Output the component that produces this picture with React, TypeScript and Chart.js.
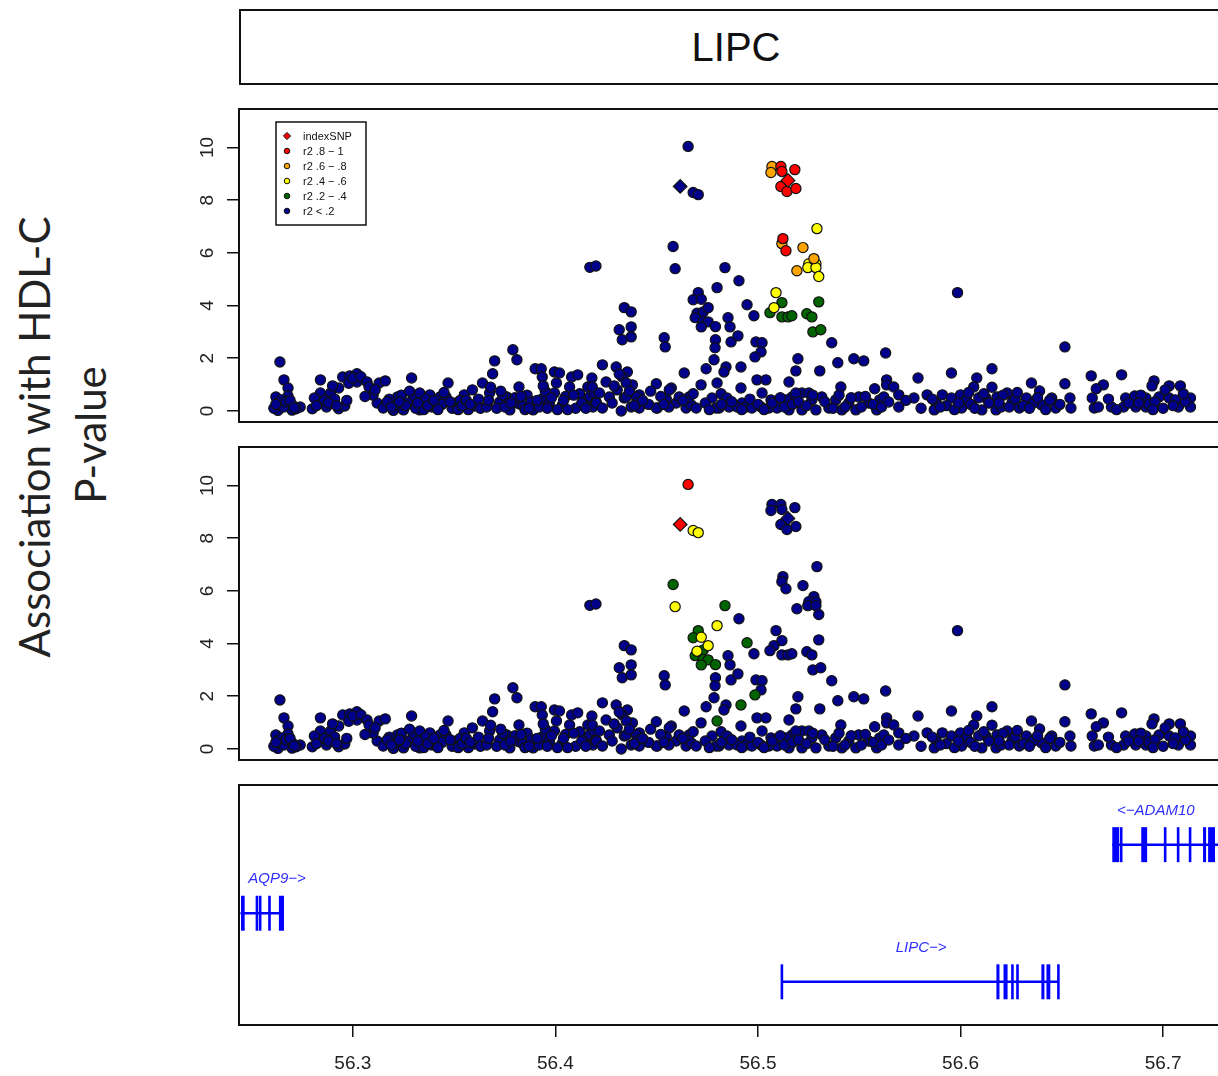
import React, { useEffect, useRef } from 'react';
import { Chart, registerables } from 'chart.js';

Chart.register(...registerables);

// ---------- axes ----------
const X_MIN = 56.2438;
const X_MAX = 56.7335;
const Y_MIN = -0.42;
const Y_MAX = 11.46;
const X_TICKS = [56.3, 56.4, 56.5, 56.6, 56.7];
const Y_TICKS = [0, 2, 4, 6, 8, 10];

const TITLE = 'LIPC';
const Y_LABEL_1 = 'Association with HDL-C';
const Y_LABEL_2 = 'P-value';

// r2 classes: 0 <.2, 1 .2-.4, 2 .4-.6, 3 .6-.8, 4 .8-1
const R2_COLORS = ['#00008B', '#006400', '#FFFF00', '#FFA500', '#FF0000'];
const LEGEND_LABELS = ['indexSNP', 'r2 .8 \u2212 1', 'r2 .6 \u2212 .8', 'r2 .4 \u2212 .6', 'r2 .2 \u2212 .4', 'r2 < .2'];
const LEGEND_CLASSES = [4, 4, 3, 2, 1, 0];

// SNPs in LD with the top panel's index SNP
const P1_POS = [
  56.5069, 56.5064, 56.5113, 56.5118, 56.5182, 56.5113, 56.5143, 56.5187,
  56.5123, 56.5118, 56.5138, 56.5222, 56.5291, 56.5276, 56.5251, 56.5286, 56.5246, 56.5286, 56.5300, 56.5192,
  56.5089, 56.5079, 56.5118, 56.5059, 56.5118, 56.5148, 56.5167, 56.5300, 56.5241, 56.5266, 56.5271, 56.5310,
];
const P1_LOGP = [
  9.28, 9.05, 9.28, 9.09, 9.16, 8.52, 8.33, 8.44,
  6.54, 6.35, 6.08, 6.20, 6.92, 5.78, 5.59, 5.59, 5.44, 5.44, 5.10, 5.32,
  4.49, 3.92, 4.11, 3.73, 3.57, 3.57, 3.61, 4.14, 3.69, 3.57, 3.00, 3.08,
];
const P1_R2 = [
  3, 3, 4, 4, 4, 4, 4, 4,
  4, 3, 4, 3, 2, 3, 2, 2, 2, 2, 2, 3,
  2, 2, 1, 1, 1, 1, 1, 1, 1, 1, 1, 1,
];

// SNPs in LD with the bottom panel's index SNP
const P2_POS = [
  56.4655, 56.4680, 56.4705, 56.4581, 56.4591, 56.4837, 56.4798, 56.4946, 56.4705, 56.4680, 56.4720,
  56.4699, 56.4730, 56.4754, 56.4690, 56.4730, 56.4754, 56.4720, 56.4790, 56.4798, 56.4916, 56.4985,
];
const P2_LOGP = [
  10.04, 8.29, 8.21, 6.24, 5.40, 5.44, 4.68, 4.03, 4.49, 4.22, 4.24,
  3.71, 3.76, 3.92, 3.54, 3.40, 3.38, 3.19, 3.20, 1.06, 1.67, 2.05,
];
const P2_R2 = [
  4, 2, 2, 1, 2, 1, 2, 1, 1, 1, 2,
  2, 1, 2, 1, 1, 1, 1, 1, 1, 1, 1,
];

// index SNPs (diamonds)
const INDEX_POS = [56.5148, 56.4616];
const INDEX_LOGP = [8.75, 8.52];
const INDEX_R2_P1 = [4, 0];
const INDEX_R2_P2 = [0, 4];

// all remaining SNPs (r2 < .2 in both panels): [position Mb, -log10 p]
const OTHER_SNPS: [number, number][] = [
  [56.264, 1.86], [56.266, 1.18], [56.268, 0.87], [56.262, 0.53], [56.268, 0.57], [56.263, 0.30], [56.270, 0.23],
  [56.263, 0.02], [56.270, 0.03], [56.274, 0.15], [56.266, 0.15], [56.265, 0.42], [56.261, 0.10], [56.272, 0.08],
  [56.267, 0.35], [56.262, 0.25], [56.269, 0.40], [56.271, 0.12],
  [56.280, 0.08], [56.284, 1.18], [56.284, 0.68], [56.287, 0.15], [56.293, 0.08], [56.296, 0.19], [56.293, 0.87],
  [56.295, 1.29], [56.2985, 1.33], [56.302, 1.41], [56.302, 1.10], [56.289, 0.68], [56.281, 0.49], [56.290, 0.95],
  [56.298, 1.05], [56.286, 0.40], [56.291, 0.45], [56.300, 1.25], [56.304, 1.30],
  [56.307, 1.10], [56.308, 0.91], [56.312, 0.30], [56.313, 1.06], [56.316, 1.14], [56.315, 0.11], [56.320, 0.02],
  [56.321, 0.23], [56.322, 0.53], [56.325, 0.04], [56.329, 1.25], [56.330, 0.53], [56.327, 0.30], [56.333, 0.68],
  [56.3345, 0.34], [56.333, 0.04], [56.338, 0.61], [56.339, 0.15], [56.343, 0.53], [56.341, 0.15], [56.347, 1.06],
  [56.346, 0.53], [56.351, 0.30], [56.355, 0.61], [56.359, 0.80], [56.360, 0.19], [56.318, 0.45], [56.324, 0.60],
  [56.326, 0.20], [56.331, 0.10], [56.336, 0.45], [56.344, 0.25], [56.349, 0.10], [56.353, 0.40], [56.357, 0.05],
  [56.310, 0.60], [56.317, 0.35], [56.335, 0.05],
  [56.311, 0.80], [56.319, 0.15], [56.323, 0.35], [56.328, 0.75], [56.332, 0.30], [56.337, 0.20], [56.340, 0.40],
  [56.342, 0.05], [56.345, 0.70], [56.348, 0.35], [56.352, 0.05], [56.354, 0.20], [56.356, 0.40], [56.358, 0.25],
  [56.362, 0.45], [56.363, 0.10], [56.282, 0.20], [56.288, 0.30], [56.292, 0.20], [56.297, 0.40], [56.306, 0.55],
  [56.364, 1.06], [56.370, 1.90], [56.369, 1.41], [56.3675, 0.68], [56.366, 0.15], [56.3725, 0.34], [56.376, 0.53],
  [56.379, 2.32], [56.381, 1.94], [56.382, 0.91], [56.3775, 0.04], [56.382, 0.27], [56.389, 0.04], [56.390, 1.60],
  [56.393, 1.60], [56.3935, 1.29], [56.3935, 0.46], [56.3995, 1.48], [56.402, 1.44], [56.4005, 1.06], [56.3995, 0.68],
  [56.4035, 0.23], [56.408, 1.29], [56.411, 1.37], [56.407, 0.91], [56.416, 0.91], [56.418, 1.25], [56.4145, 0.42],
  [56.4185, 0.15], [56.367, 0.40], [56.371, 0.10], [56.374, 0.60], [56.380, 0.50], [56.384, 0.20], [56.386, 0.60],
  [56.388, 0.35], [56.392, 0.15], [56.395, 0.75], [56.397, 0.30], [56.401, 0.05], [56.405, 0.55], [56.410, 0.10],
  [56.412, 0.65], [56.413, 0.30], [56.417, 0.55], [56.420, 0.35], [56.385, 0.05], [56.396, 0.10],
  [56.368, 0.90], [56.373, 0.75], [56.375, 0.15], [56.378, 0.30], [56.383, 0.55], [56.387, 0.10], [56.391, 0.40],
  [56.394, 0.95], [56.398, 0.50], [56.404, 0.40], [56.406, 0.05], [56.409, 0.60], [56.415, 0.10], [56.419, 0.70],
  [56.417, 5.45], [56.420, 5.50],
  [56.4232, 1.75], [56.4300, 1.67], [56.4355, 1.48], [56.4330, 1.29], [56.4380, 0.99], [56.4414, 0.61], [56.4340, 0.49],
  [56.4374, 0.15], [56.4325, 0.00], [56.4498, 1.03], [56.4503, 0.11], [56.4572, 0.87], [56.4547, 0.46], [56.4340, 3.92],
  [56.4374, 3.76], [56.4315, 3.08], [56.4330, 2.70], [56.4374, 3.19], [56.4374, 2.81], [56.4537, 2.78], [56.4542, 2.43],
  [56.4182, 0.91], [56.4217, 0.68], [56.4202, 0.30], [56.4232, 0.11], [56.4266, 0.53], [56.4305, 0.80], [56.4350, 1.06],
  [56.4350, 0.53], [56.4400, 0.53], [56.4414, 0.11], [56.4498, 0.11], [56.4562, 0.80], [56.4596, 0.30], [56.4315, 1.40],
  [56.4400, 0.30], [56.4460, 0.25], [56.4470, 0.75], [56.4520, 0.55], [56.4560, 0.15],
  [56.4250, 1.10], [56.4280, 0.30], [56.4290, 0.95], [56.4365, 0.75], [56.4390, 0.20], [56.4430, 0.40], [56.4535, 0.25],
  [56.4906, 4.94], [56.4980, 3.61], [56.4852, 3.54], [56.4862, 3.19], [56.4790, 2.70], [56.4788, 2.40], [56.4867, 2.62],
  [56.4901, 2.85], [56.4636, 1.44], [56.4611, 0.53], [56.4645, 0.11], [56.4670, 0.23], [56.4719, 0.99], [56.4744, 1.60],
  [56.4783, 1.94], [56.4818, 0.65], [56.4842, 1.67], [56.4832, 1.48], [56.4808, 0.11], [56.4857, 0.15], [56.4916, 0.87],
  [56.4921, 0.30], [56.4990, 2.62], [56.5020, 2.59], [56.5015, 2.24], [56.4995, 1.18], [56.5039, 1.18], [56.5020, 0.68],
  [56.5015, 0.15], [56.5064, 0.42], [56.5153, 1.10], [56.5187, 1.52], [56.5197, 1.98], [56.5168, 0.53], [56.5217, 0.68],
  [56.5266, 0.42], [56.5305, 1.52], [56.5364, 2.59], [56.5394, 1.83], [56.5409, 0.91], [56.5473, 1.98], [56.5522, 1.90],
  [56.5630, 2.20], [56.5576, 0.84], [56.5601, 0.42],
  [56.4660, 0.53], [56.4695, 0.11], [56.4773, 0.49], [56.4793, 0.11], [56.4847, 0.49], [56.4897, 0.15], [56.4941, 0.15],
  [56.4970, 0.11], [56.5054, 0.11], [56.5094, 0.11], [56.5138, 0.42], [56.5153, 0.04], [56.5187, 0.68], [56.5217, 0.04],
  [56.5251, 0.68], [56.5286, 0.04], [56.5315, 0.53], [56.5350, 0.11], [56.5384, 0.42], [56.5414, 0.04], [56.5448, 0.30],
  [56.5483, 0.04], [56.5497, 0.53], [56.5547, 0.30], [56.5586, 0.04], [56.5621, 0.53], [56.5635, 1.18],
  [56.4630, 0.40], [56.4680, 0.65], [56.4740, 0.30], [56.4760, 0.05], [56.4820, 0.25], [56.4870, 0.35], [56.4920, 0.05],
  [56.4960, 0.45], [56.5000, 0.25], [56.5030, 0.05], [56.5070, 0.30], [56.5110, 0.50], [56.5130, 0.15], [56.5170, 0.25],
  [56.5200, 0.35], [56.5240, 0.20], [56.5270, 0.60], [56.5330, 0.35], [56.5370, 0.10], [56.5400, 0.60], [56.5430, 0.15],
  [56.5460, 0.50], [56.5510, 0.15], [56.5530, 0.55], [56.5570, 0.25], [56.5610, 0.15],
  [56.5985, 4.49], [56.6515, 2.43], [56.5790, 1.25], [56.5955, 1.44], [56.6155, 1.60], [56.6080, 1.25], [56.6065, 0.91],
  [56.6350, 1.06], [56.6390, 0.76], [56.6515, 1.03], [56.6540, 0.49], [56.6545, 0.11], [56.6645, 1.33], [56.6705, 0.99],
  [56.6670, 0.84], [56.6650, 0.49], [56.6660, 0.11], [56.6795, 1.37], [56.6815, 0.49], [56.6860, 0.57], [56.6915, 0.49],
  [56.6955, 1.14], [56.6945, 0.95], [56.7030, 0.95], [56.7085, 0.95], [56.7030, 0.49], [56.7135, 0.49], [56.7135, 0.15],
  [56.7075, 0.15], [56.5770, 0.49], [56.5635, 0.99], [56.5670, 0.91], [56.5695, 0.61], [56.5695, 0.15], [56.5645, 0.34],
  [56.5835, 0.61], [56.5880, 0.30], [56.5910, 0.61], [56.5955, 0.49], [56.6000, 0.61], [56.6030, 0.42], [56.6005, 0.11],
  [56.6125, 0.49], [56.6180, 0.53], [56.6230, 0.68], [56.6255, 0.34], [56.6290, 0.11], [56.6325, 0.49], [56.6105, 0.04],
  [56.6175, 0.04], [56.6400, 0.23], [56.6450, 0.49], [56.6470, 0.11], [56.6805, 0.15], [56.6865, 0.15], [56.6915, 0.15],
  [56.6980, 0.53], [56.7060, 0.42], [56.6745, 0.15], [56.6680, 0.15], [56.5870, 0.04],
  [56.5730, 0.40], [56.5805, 0.10], [56.5860, 0.45], [56.5930, 0.20], [56.5970, 0.05], [56.6050, 0.25], [56.6090, 0.50],
  [56.6140, 0.30], [56.6200, 0.15], [56.6210, 0.60], [56.6270, 0.45], [56.6310, 0.20], [56.6360, 0.30], [56.6420, 0.05],
  [56.6440, 0.40], [56.6490, 0.25], [56.6730, 0.45], [56.6770, 0.05], [56.6830, 0.30], [56.6890, 0.60], [56.6930, 0.25],
  [56.7000, 0.10], [56.7010, 0.80], [56.7110, 0.35], [56.6040, 0.70], [56.6155, 0.90],
  [56.5900, 0.15], [56.5990, 0.30], [56.6070, 0.10], [56.6115, 0.65], [56.6190, 0.30], [56.6240, 0.15], [56.6280, 0.70],
  [56.6340, 0.10], [56.6380, 0.50], [56.6880, 0.30], [56.6960, 0.35], [56.7050, 0.20], [56.7100, 0.65], [56.6950, 0.05],
];

// ---------- gene track ----------
const GENE_NAMES = ['AQP9\u2212>', 'LIPC\u2212>', '<\u2212ADAM10'];
const GENE_ROW = [2, 1, 3];
const GENE_START = [56.2445, 56.5118, 56.6749];
const GENE_END = [56.2655, 56.6483, 56.7450];
const GENE_LABEL_POS = [56.2626, 56.5805, 56.6964];
const GENE_EXONS: [number, number][][] = [
  [[56.2448, 56.2466], [56.2523, 56.2530], [56.2539, 56.2546], [56.2582, 56.2595], [56.2635, 56.2660]],
  [[56.5113, 56.5123], [56.6177, 56.6192], [56.6212, 56.6232], [56.6251, 56.6261], [56.6276, 56.6286],
   [56.6399, 56.6414], [56.6424, 56.6443], [56.6478, 56.6488]],
  [[56.6749, 56.6783], [56.6788, 56.6798], [56.6892, 56.6921], [56.7005, 56.7015], [56.7069, 56.7079],
   [56.7128, 56.7138], [56.7197, 56.7212], [56.7222, 56.7256], [56.7290, 56.7300], [56.7330, 56.7345]],
];
const GENE_Y_MIN = 0.37;
const GENE_Y_MAX = 3.87;
const EXON_HALF = 0.255;
const LABEL_OFFSET = 0.5;

const TICK_FONT = '"Liberation Sans Narrow", "Liberation Sans", Arial, sans-serif';
const BOX_COLOR = '#111';

function buildPanelDatasets(panel: 1 | 2) {
  const groups: { x: number; y: number }[][] = [[], [], [], [], []];
  OTHER_SNPS.forEach(([x, y]) => groups[0].push({ x, y }));
  P1_POS.forEach((x, i) => groups[panel === 1 ? P1_R2[i] : 0].push({ x, y: P1_LOGP[i] }));
  P2_POS.forEach((x, i) => groups[panel === 2 ? P2_R2[i] : 0].push({ x, y: P2_LOGP[i] }));
  const idxR2 = panel === 1 ? INDEX_R2_P1 : INDEX_R2_P2;
  const datasets: any[] = [];
  INDEX_POS.forEach((x, i) => {
    datasets.push({
      label: 'index' + i,
      data: [{ x, y: INDEX_LOGP[i] }],
      pointStyle: 'rectRot',
      pointRadius: 6.8,
      backgroundColor: R2_COLORS[idxR2[i]],
      borderColor: BOX_COLOR,
      pointBorderWidth: 1.2,
    });
  });
  for (let c = 4; c >= 0; c--) {
    datasets.push({
      label: 'r2-' + c,
      data: groups[c],
      pointStyle: 'circle',
      pointRadius: 5.1,
      backgroundColor: R2_COLORS[c],
      borderColor: BOX_COLOR,
      pointBorderWidth: 1.2,
    });
  }
  return datasets;
}

const panelDecor = {
  id: 'panelDecor',
  afterDraw(chart: any) {
    const { ctx, chartArea: a } = chart;
    const ys = chart.scales.y;
    ctx.save();
    ctx.strokeStyle = BOX_COLOR;
    ctx.lineWidth = 2;
    ctx.strokeRect(a.left, a.top, a.right - a.left, a.bottom - a.top);
    ctx.fillStyle = '#222';
    ctx.font = `19px ${TICK_FONT}`;
    ctx.textAlign = 'center';
    ctx.textBaseline = 'middle';
    Y_TICKS.forEach((t) => {
      const py = ys.getPixelForValue(t);
      ctx.save();
      ctx.translate(a.left - 31, py);
      ctx.rotate(-Math.PI / 2);
      ctx.fillText(String(t), 0, 0);
      ctx.restore();
    });
    if (chart.options.plugins.snpLegend) {
      const bx = a.left + 37;
      const by = a.top + 13;
      ctx.lineWidth = 1.5;
      ctx.strokeRect(bx, by, 90, 103);
      ctx.font = '11px "Liberation Sans", Arial, sans-serif';
      ctx.textAlign = 'left';
      LEGEND_LABELS.forEach((lab, i) => {
        const cy = by + 14 + i * 15;
        const cx = bx + 11;
        ctx.fillStyle = R2_COLORS[LEGEND_CLASSES[i]];
        ctx.strokeStyle = BOX_COLOR;
        ctx.lineWidth = 1;
        ctx.beginPath();
        if (i === 0) {
          ctx.moveTo(cx, cy - 3.6);
          ctx.lineTo(cx + 3.6, cy);
          ctx.lineTo(cx, cy + 3.6);
          ctx.lineTo(cx - 3.6, cy);
          ctx.closePath();
        } else {
          ctx.arc(cx, cy, 2.8, 0, Math.PI * 2);
        }
        ctx.fill();
        ctx.stroke();
        ctx.fillStyle = '#111';
        ctx.fillText(lab, bx + 27, cy + 0.5);
      });
    }
    ctx.restore();
  },
};

function makePanel(canvas: HTMLCanvasElement, panel: 1 | 2) {
  return new Chart(canvas, {
    type: 'scatter',
    data: { datasets: buildPanelDatasets(panel) },
    options: {
      animation: false,
      responsive: false,
      devicePixelRatio: 1,
      layout: { padding: { left: 0, right: 19, top: 9, bottom: 18 } },
      plugins: {
        legend: { display: false },
        tooltip: { enabled: false },
        snpLegend: panel === 1,
      } as any,
      scales: {
        x: { type: 'linear', min: X_MIN, max: X_MAX, display: false },
        y: {
          type: 'linear',
          min: Y_MIN,
          max: Y_MAX,
          afterBuildTicks: (s: any) => { s.ticks = Y_TICKS.map((v) => ({ value: v })); },
          afterFit: (s: any) => { s.width = 89; },
          ticks: { display: false },
          grid: { drawOnChartArea: false, drawTicks: true, tickLength: 12, tickColor: BOX_COLOR, lineWidth: 1.5 },
          border: { display: true, color: BOX_COLOR, width: 2 },
        },
      },
    },
    plugins: [panelDecor],
  });
}

const geneDecor = {
  id: 'geneDecor',
  afterDatasetsDraw(chart: any) {
    const { ctx, chartArea: a } = chart;
    const xs = chart.scales.x;
    const ys = chart.scales.y;
    ctx.save();
    ctx.beginPath();
    ctx.rect(a.left, a.top, a.right - a.left, a.bottom - a.top);
    ctx.clip();
    ctx.fillStyle = '#0000FF';
    GENE_EXONS.forEach((exons, g) => {
      const top = ys.getPixelForValue(GENE_ROW[g] + EXON_HALF);
      const bot = ys.getPixelForValue(GENE_ROW[g] - EXON_HALF);
      exons.forEach(([s, e]) => {
        let x0 = xs.getPixelForValue(s);
        let x1 = xs.getPixelForValue(e);
        if (x1 - x0 < 2.6) {
          const m = (x0 + x1) / 2;
          x0 = m - 1.3;
          x1 = m + 1.3;
        }
        ctx.fillRect(x0, top, x1 - x0, bot - top);
      });
    });
    ctx.restore();
    ctx.save();
    ctx.fillStyle = '#2f2fff';
    ctx.font = 'italic 15px "Liberation Sans", Arial, sans-serif';
    ctx.textAlign = 'center';
    ctx.textBaseline = 'middle';
    GENE_NAMES.forEach((n, g) => {
      ctx.fillText(n, xs.getPixelForValue(GENE_LABEL_POS[g]), ys.getPixelForValue(GENE_ROW[g] + LABEL_OFFSET));
    });
    ctx.strokeStyle = BOX_COLOR;
    ctx.lineWidth = 2;
    ctx.strokeRect(a.left, a.top, a.right - a.left, a.bottom - a.top);
    ctx.restore();
  },
};

function makeGenes(canvas: HTMLCanvasElement) {
  const datasets = GENE_NAMES.map((n, g) => ({
    label: n,
    data: [{ x: GENE_START[g], y: GENE_ROW[g] }, { x: GENE_END[g], y: GENE_ROW[g] }],
    showLine: true,
    borderColor: '#0000FF',
    borderWidth: 2.5,
    pointRadius: 0,
  }));
  return new Chart(canvas, {
    type: 'scatter',
    data: { datasets },
    options: {
      animation: false,
      responsive: false,
      devicePixelRatio: 1,
      layout: { padding: { left: 89, right: 19, top: 9, bottom: 0 } },
      plugins: { legend: { display: false }, tooltip: { enabled: false } },
      scales: {
        x: {
          type: 'linear',
          min: X_MIN,
          max: X_MAX,
          afterBuildTicks: (s: any) => { s.ticks = X_TICKS.map((v) => ({ value: v })); },
          afterFit: (s: any) => { s.height = 51; },
          ticks: {
            autoSkip: false,
            maxRotation: 0,
            minRotation: 0,
            padding: 15,
            color: '#222',
            font: { family: TICK_FONT, size: 19 },
            callback: (v: any) => Number(v).toFixed(1),
          },
          grid: { drawOnChartArea: false, drawTicks: true, tickLength: 12, tickColor: BOX_COLOR, lineWidth: 1.5 },
          border: { display: true, color: BOX_COLOR, width: 2 },
        },
        y: { type: 'linear', min: GENE_Y_MIN, max: GENE_Y_MAX, display: false },
      },
    },
    plugins: [geneDecor],
  });
}

function ChartCanvas(props: { make: (c: HTMLCanvasElement) => Chart; left: number; top: number; width: number; height: number }) {
  const ref = useRef<HTMLCanvasElement>(null);
  useEffect(() => {
    const chart = props.make(ref.current as HTMLCanvasElement);
    return () => chart.destroy();
  }, []);
  return (
    <canvas
      ref={ref}
      width={props.width}
      height={props.height}
      style={{ position: 'absolute', left: props.left, top: props.top, width: props.width, height: props.height }}
    />
  );
}

const sideLabel: React.CSSProperties = {
  position: 'absolute',
  transform: 'translate(-50%, -50%) rotate(-90deg)',
  whiteSpace: 'nowrap',
  fontFamily: 'Lato, "Open Sans", sans-serif',
  fontSize: 42,
  lineHeight: 1,
  color: '#222',
};

export default function App() {
  return (
    <div style={{ position: 'absolute', left: 0, top: 0, width: 1218, height: 1076, overflow: 'hidden', background: '#fff' }}>
      <div
        style={{
          position: 'absolute', left: 239, top: 9, width: 994, height: 76, boxSizing: 'border-box',
          border: `2px solid ${BOX_COLOR}`, display: 'flex', alignItems: 'center', justifyContent: 'center',
          fontFamily: '"Liberation Sans", Arial, sans-serif', fontSize: 40, color: '#111',
        }}
      >
        {TITLE}
      </div>
      <div style={{ ...sideLabel, left: 34, top: 437 }}>{Y_LABEL_1}</div>
      <div style={{ ...sideLabel, left: 90, top: 435 }}>{Y_LABEL_2}</div>
      <ChartCanvas make={(c) => makePanel(c, 1)} left={150} top={100} width={1100} height={340} />
      <ChartCanvas make={(c) => makePanel(c, 2)} left={150} top={438} width={1100} height={340} />
      <ChartCanvas make={makeGenes} left={150} top={776} width={1100} height={300} />
    </div>
  );
}
